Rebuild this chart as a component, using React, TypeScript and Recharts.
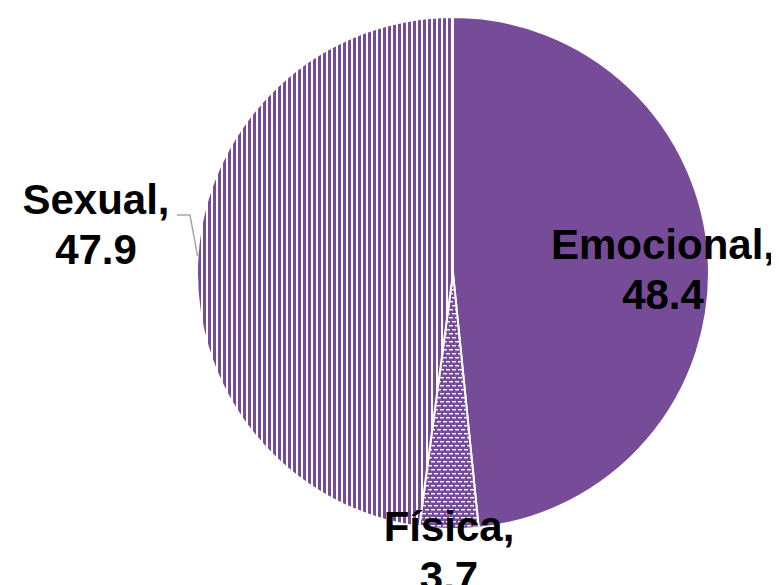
import React from "react";
import { PieChart, Pie, Cell } from "recharts";

const categories = ["Emocional", "Física", "Sexual"];
const values = [48.4, 3.7, 47.9];
const valueLabels = ["48.4", "3.7", "47.9"];

const PURPLE = "#764B97";

const FILLS: Record<string, string> = {
  Emocional: PURPLE,
  Física: "url(#dashPattern)",
  Sexual: "url(#stripePattern)",
};

// label placement relative to the pie centre (px)
const LABEL_POS: Record<string, { dx: number; dy: number }> = {
  Emocional: { dx: 210, dy: -14 },
  Física: { dx: -4, dy: 268 },
  Sexual: { dx: -357, dy: -59 },
};

const RADIAN = Math.PI / 180;

const renderLabel = (props: any) => {
  const { cx, cy, midAngle, outerRadius, name, index } = props;
  const pos = LABEL_POS[name];
  const x = cx + pos.dx;
  const y = cy + pos.dy;
  let leader = null;
  if (name === "Sexual") {
    const ex = cx + outerRadius * Math.cos(-midAngle * RADIAN);
    const ey = cy + outerRadius * Math.sin(-midAngle * RADIAN);
    leader = (
      <polyline
        points={`${ex},${ey} ${cx - 263},${cy - 58} ${cx - 276},${cy - 58}`}
        fill="none"
        stroke="#A6A6A6"
        strokeWidth={1.5}
      />
    );
  }
  return (
    <g key={`label-${index}`}>
      {leader}
      <text
        x={x}
        y={y}
        textAnchor="middle"
        fill="#000"
        style={{ fontFamily: "'Liberation Sans', Arial, sans-serif", fontWeight: 700, fontSize: 42 }}
      >
        <tspan x={x} dy={0}>{`${name},`}</tspan>
        <tspan x={x} dy={50}>{valueLabels[index]}</tspan>
      </text>
    </g>
  );
};

export default function App() {
  const data = categories.map((name, i) => ({ name, value: values[i] }));

  return (
    <PieChart width={763} height={577}>
      <defs>
        <pattern id="stripePattern" patternUnits="userSpaceOnUse" width={5} height={5}>
          <rect x={0} y={0} width={5} height={5} fill="#fff" />
          <rect x={0} y={0} width={3} height={5} fill={PURPLE} />
        </pattern>
        <pattern id="dashPattern" patternUnits="userSpaceOnUse" width={6} height={8}>
          <rect x={0} y={0} width={6} height={8} fill={PURPLE} />
          <rect x={0} y={1} width={4} height={1.4} fill="#fff" />
          <rect x={3} y={5} width={3} height={1.4} fill="#fff" />
          <rect x={0} y={5} width={1} height={1.4} fill="#fff" />
        </pattern>
      </defs>
      <Pie
        data={data}
        dataKey="value"
        nameKey="name"
        cx={440}
        cy={260}
        outerRadius={256}
        startAngle={90}
        endAngle={-270}
        stroke="#fff"
        strokeWidth={2}
        labelLine={false}
        label={renderLabel}
        isAnimationActive={false}
      >
        {data.map((entry, i) => (
          <Cell key={`cell-${i}`} fill={FILLS[entry.name]} />
        ))}
      </Pie>
    </PieChart>
  );
}
